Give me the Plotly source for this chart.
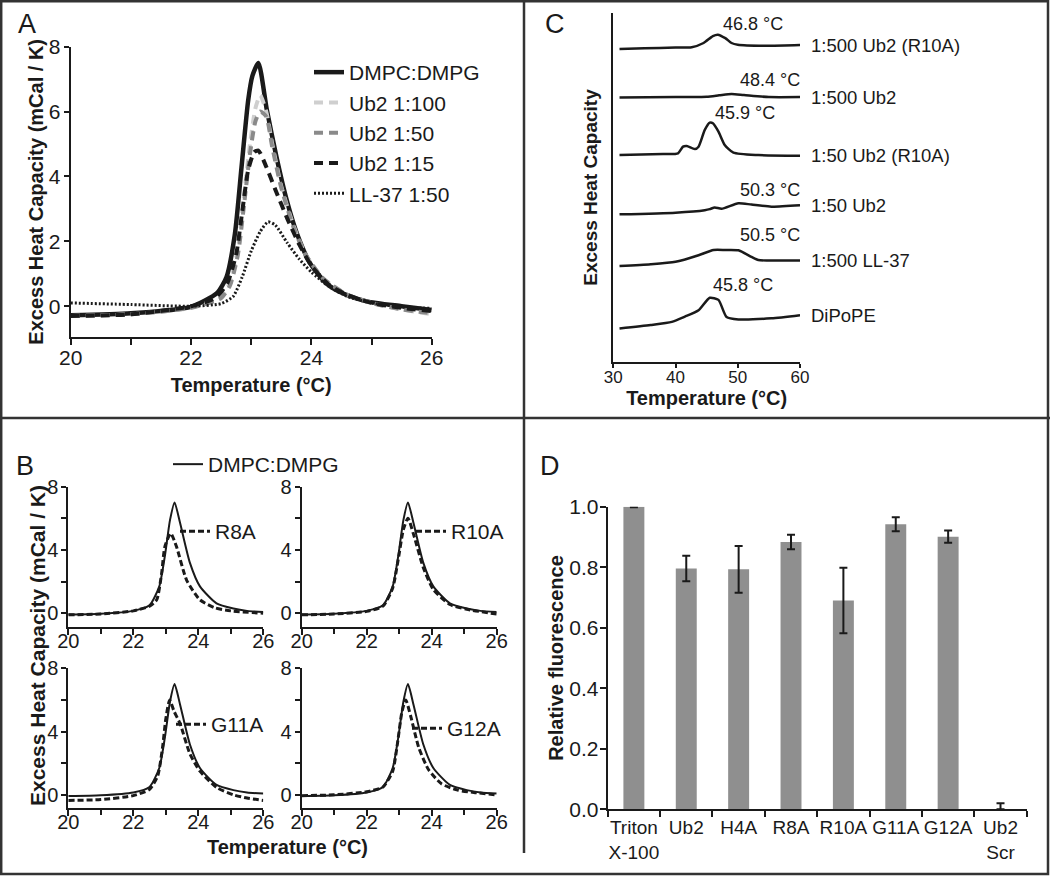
import plotly.graph_objects as go

W, H = 1050, 876
FONT = "Liberation Sans, Arial, sans-serif"
INK = "#1a1a1a"

# ---------------- Panel A data ----------------
a_dmpc_t = [20, 21, 22, 22.43, 22.59, 22.73, 22.84, 22.95, 23.02, 23.12, 23.26, 23.42, 23.59, 23.76, 23.98, 24.25, 24.53, 24.92, 25.5, 26]
a_dmpc_v = [-0.28, -0.22, -0.02, 0.4, 0.9, 2.24, 4.3, 6.35, 7.1, 7.5, 6.05, 4.6, 3.27, 2.24, 1.32, 0.7, 0.39, 0.15, 0.0, -0.12]
a_ub100_t = [20, 21, 22, 22.5, 22.65, 22.78, 22.88, 22.98, 23.07, 23.15, 23.25, 23.35, 23.5, 23.7, 23.9, 24.2, 24.6, 25.0, 25.5, 26]
a_ub100_v = [-0.3, -0.25, -0.05, 0.3, 0.75, 1.8, 3.4, 5.0, 6.1, 6.5, 6.0, 5.0, 3.7, 2.5, 1.6, 0.85, 0.35, 0.1, -0.1, -0.25]
a_ub50_t = [20, 21, 22, 22.5, 22.65, 22.78, 22.88, 22.98, 23.07, 23.15, 23.25, 23.35, 23.5, 23.7, 23.9, 24.2, 24.6, 25.0, 25.5, 26]
a_ub50_v = [-0.3, -0.25, -0.05, 0.25, 0.65, 1.6, 3.1, 4.7, 5.7, 6.0, 5.85, 4.9, 3.65, 2.45, 1.6, 0.85, 0.35, 0.1, -0.1, -0.22]
a_ub15_t = [20, 21, 22, 22.4, 22.6, 22.75, 22.85, 22.95, 23.05, 23.12, 23.25, 23.4, 23.6, 23.8, 24.0, 24.3, 24.6, 25.0, 25.5, 26]
a_ub15_v = [-0.3, -0.25, 0.0, 0.25, 0.7, 1.6, 2.9, 4.2, 4.75, 4.8, 4.3, 3.6, 2.7, 1.9, 1.25, 0.65, 0.35, 0.1, -0.05, -0.15]
a_ll37_t = [20, 21, 22, 22.5, 22.7, 22.85, 23.0, 23.15, 23.28, 23.4, 23.6, 23.8, 24.0, 24.3, 24.6, 25.0, 25.5, 26]
a_ll37_v = [0.1, 0.05, 0.0, 0.08, 0.3, 0.9, 1.7, 2.3, 2.6, 2.5, 1.95, 1.45, 1.05, 0.6, 0.3, 0.1, -0.02, -0.07]

# ---------------- Panel B data ----------------
b_dmpc_t = [20, 21, 22, 22.5, 22.8, 22.97, 23.13, 23.27, 23.44, 23.74, 24.05, 24.56, 25.08, 25.5, 26]
b_dmpc_v = [-0.08, -0.03, 0.15, 0.5, 1.7, 3.6, 5.9, 7.0, 5.7, 3.2, 1.7, 0.63, 0.3, 0.15, 0.08]
b_r8a_t = [20, 21, 22, 22.5, 22.72, 22.87, 22.97, 23.15, 23.33, 23.64, 24.05, 24.5, 25, 26]
b_r8a_v = [-0.1, -0.05, 0.15, 0.45, 0.85, 2.5, 4.2, 5.05, 4.2, 2.1, 0.85, 0.35, 0.15, 0.0]
b_r10a_t = [20, 21, 22, 22.5, 22.8, 22.97, 23.13, 23.27, 23.44, 23.74, 24.05, 24.56, 25.08, 26]
b_r10a_v = [-0.1, -0.05, 0.12, 0.45, 1.6, 3.4, 5.3, 6.0, 5.0, 2.9, 1.5, 0.55, 0.25, -0.05]
b_g11a_t = [20, 21, 22, 22.5, 22.75, 22.9, 23.0, 23.12, 23.25, 23.44, 23.74, 24.05, 24.56, 25.08, 25.5, 26]
b_g11a_v = [-0.35, -0.3, -0.05, 0.35, 1.2, 3.0, 4.8, 6.0, 5.3, 4.5, 2.6, 1.5, 0.47, 0.0, -0.2, -0.35]
b_g12a_t = [20, 21, 22, 22.5, 22.8, 22.95, 23.08, 23.2, 23.35, 23.6, 23.9, 24.3, 24.8, 25.3, 26]
b_g12a_v = [-0.05, 0.0, 0.2, 0.5, 1.5, 3.3, 5.2, 6.0, 5.0, 3.0, 1.6, 0.7, 0.3, 0.15, 0.0]

# ---------------- Panel C data (stacked thermograms, arbitrary units) ----------------
c_names = ["1:500 Ub2 (R10A)", "1:500 Ub2", "1:50 Ub2 (R10A)", "1:50 Ub2", "1:500 LL-37", "DiPoPE"]
c_peaks = ["46.8 °C", "48.4 °C", "45.9 °C", "50.3 °C", "50.5 °C", "45.8 °C"]
c_t = [
    [31, 35, 40, 42.6, 44.5, 46.0, 46.8, 48.0, 49.0, 50.0, 55, 60],
    [31, 40, 45, 47, 49, 51, 55, 60],
    [31, 38, 40.4, 41.2, 41.8, 43.1, 43.7, 44.7, 45.5, 46.0, 46.9, 47.9, 49.3, 53.3, 60],
    [31, 40, 44.7, 45.5, 46.3, 47.4, 50.1, 52.2, 55.4, 60],
    [31, 36, 40, 43.7, 46.1, 48, 50.1, 52.2, 53.3, 55, 60],
    [31, 36, 39.4, 41.5, 43.7, 45.5, 46.9, 48.2, 50.1, 55.4, 60],
]
c_v = [
    [89.7, 89.9, 90.1, 90.2, 91.4, 93.4, 93.8, 92.8, 91.4, 90.9, 90.6, 90.8],
    [75.8, 75.9, 76.0, 76.4, 76.8, 76.5, 75.9, 75.9],
    [59.3, 59.6, 59.8, 61.7, 61.9, 61.0, 61.7, 66.5, 68.6, 68.4, 66.0, 62.2, 60.0, 59.3, 59.1],
    [42.3, 42.8, 43.5, 43.8, 44.3, 43.9, 45.5, 45.1, 44.5, 44.9],
    [27.5, 28.0, 28.7, 30.6, 32.1, 32.1, 32.0, 30.1, 29.2, 29.1, 29.1],
    [9.6, 10.6, 11.5, 13.0, 14.8, 18.4, 17.8, 12.9, 12.2, 12.5, 13.4],
]
# peak-label anchor positions (x in °C, y in plot units)
c_lab_x = [52.4, 55.2, 51.2, 55.2, 55.2, 50.8]
c_lab_y = [96.8, 80.8, 71.3, 49.3, 36.4, 22.1]

# ---------------- Panel D data ----------------
d_cats = ["Triton<br>X-100", "Ub2", "H4A", "R8A", "R10A", "G11A", "G12A", "Ub2<br>Scr"]
d_vals = [1.0, 0.796, 0.793, 0.883, 0.69, 0.942, 0.901, 0.0]
d_err_up = [0.002, 0.042, 0.077, 0.024, 0.108, 0.023, 0.02, 0.02]
d_err_dn = [0.002, 0.042, 0.077, 0.024, 0.108, 0.023, 0.02, 0.0]


def xd(p0, p1):
    return [p0 / W, p1 / W]


def yd(top, bottom):
    return [1 - bottom / H, 1 - top / H]


fig = go.Figure()


def line(x, y, xa, ya, color=INK, width=2, dash="solid", name=None, legend=None, show=False):
    fig.add_trace(go.Scatter(
        x=x, y=y, xaxis=xa, yaxis=ya, mode="lines",
        line=dict(color=color, width=width, dash=dash, shape="spline", smoothing=0.6),
        name=name, showlegend=show, legend=legend, hoverinfo="skip"))


# Panel A
line(a_dmpc_t, a_dmpc_v, "x", "y", INK, 4.5, "solid", "DMPC:DMPG", "legend", True)
line(a_ub100_t, a_ub100_v, "x", "y", "#cfcfcf", 4, "9px,6px", "Ub2 1:100", "legend", True)
line(a_ub50_t, a_ub50_v, "x", "y", "#8a8a8a", 4, "9px,6px", "Ub2 1:50", "legend", True)
line(a_ub15_t, a_ub15_v, "x", "y", INK, 4, "9px,6px", "Ub2 1:15", "legend", True)
line(a_ll37_t, a_ll37_v, "x", "y", INK, 3, "2px,2px", "LL-37 1:50", "legend", True)

# Panel B
b_sets = [(b_r8a_t, b_r8a_v, "R8A"), (b_r10a_t, b_r10a_v, "R10A"),
          (b_g11a_t, b_g11a_v, "G11A"), (b_g12a_t, b_g12a_v, "G12A")]
for i, (t, v, nm) in enumerate(b_sets):
    k = i + 2
    line(b_dmpc_t, b_dmpc_v, f"x{k}", f"y{k}", INK, 2, "solid", "DMPC:DMPG", "legend6", i == 0)
    line(t, v, f"x{k}", f"y{k}", INK, 3, "6px,3px", nm, f"legend{k}", True)

# Panel C
for t, v in zip(c_t, c_v):
    line(t, v, "x6", "y6", INK, 2.5)

# Panel D
fig.add_trace(go.Bar(
    x=d_cats, y=d_vals, xaxis="x7", yaxis="y7", width=0.4,
    marker=dict(color="#8f8f8f", line=dict(width=0)),
    error_y=dict(type="data", array=d_err_up, arrayminus=d_err_dn, symmetric=False,
                 color=INK, thickness=2, width=4),
    cliponaxis=False, showlegend=False, hoverinfo="skip"))

axis_common = dict(showline=True, linecolor=INK, linewidth=2, ticks="outside", tickcolor=INK,
                   tickwidth=2, ticklen=6, showgrid=False, zeroline=False, automargin=False,
                   tickfont=dict(family=FONT, size=21, color=INK))
title_font = dict(family=FONT, size=20, color=INK, weight="bold")

layout = dict(
    width=W, height=H, margin=dict(l=0, r=0, t=0, b=0, autoexpand=False), autosize=False,
    paper_bgcolor="white", plot_bgcolor="white",
    font=dict(family=FONT, color=INK),
)

# A axes
layout["xaxis"] = dict(axis_common, domain=xd(70.7, 431.7), anchor="y", range=[20, 26], dtick=2,
                       ticklabelstandoff=-5,
                       minor=dict(dtick=1, ticks="outside", ticklen=6, tickwidth=2, tickcolor=INK),
                       title=dict(text="Temperature (°C)", font=title_font, standoff=10))
layout["yaxis"] = dict(axis_common, domain=yd(46.7, 337), anchor="x", range=[-0.95, 8], dtick=2,
                       ticklabelstandoff=-1, ticklen=5,
                       title=dict(text="Excess Heat Capacity (mCal / K)", font=title_font, standoff=0))

# B axes
b_x = [(68.3, 263.3), (301.7, 496.7), (68.3, 263.3), (301.7, 496.7)]
b_y = [(486.7, 626.7), (486.7, 626.7), (668.3, 808.3), (668.3, 808.3)]
for i in range(4):
    k = i + 2
    bfont = dict(family=FONT, size=20, color=INK)
    layout[f"xaxis{k}"] = dict(axis_common, domain=xd(*b_x[i]), anchor=f"y{k}", range=[20, 26], dtick=2,
                               tickfont=bfont, ticklabelstandoff=-11,
                               minor=dict(dtick=1, ticks="outside", ticklen=5, tickwidth=2, tickcolor=INK))
    layout[f"yaxis{k}"] = dict(axis_common, domain=yd(*b_y[i]), anchor=f"x{k}", range=[-0.85, 8], dtick=4,
                               tickfont=bfont, ticklabelstandoff=-1, ticklen=5,
                               minor=dict(dtick=2, ticks="outside", ticklen=5, tickwidth=2, tickcolor=INK))

# C axes
layout["xaxis6"] = dict(axis_common, domain=xd(613.3, 800), anchor="y6", range=[30, 60], dtick=10,
                        tickfont=dict(family=FONT, size=17, color=INK), ticklen=4, ticklabelstandoff=-5,
                        title=dict(text="Temperature (°C)", font=dict(title_font, size=20), standoff=2))
layout["yaxis6"] = dict(axis_common, domain=yd(13, 362), anchor="x6", range=[0, 100], ticks="",
                        showticklabels=False,
                        title=dict(text="Excess Heat Capacity", font=dict(title_font, size=19), standoff=9))

# D axes
layout["xaxis7"] = dict(axis_common, domain=xd(607.7, 1026.7), anchor="y7", type="category",
                        range=[-0.5, 7.5], tickson="boundaries", tickangle=0,
                        tickfont=dict(family=FONT, size=19, color=INK))
layout["yaxis7"] = dict(axis_common, domain=yd(506.7, 809.3), anchor="x7", range=[0, 1.0], dtick=0.2,
                        tickformat=".1f", ticklabelstandoff=-3,
                        title=dict(text="Relative fluorescence", font=title_font, standoff=0))

# Legends
leg_base = dict(bgcolor="rgba(0,0,0,0)", borderwidth=0, xanchor="left", yanchor="top",
                font=dict(family=FONT, size=21, color=INK), itemwidth=30)
layout["legend"] = dict(leg_base, x=309 / W, y=1 - 52 / H)
layout["legend6"] = dict(leg_base, x=168 / W, y=1 - 444 / H)
leg_pos = [(175, 511), (411, 511), (171, 704), (407, 708)]
for i, (px, py) in enumerate(leg_pos):
    layout[f"legend{i + 2}"] = dict(leg_base, x=px / W, y=1 - py / H)

# Annotations
ann = []
for lab, (px, py) in zip(["A", "B", "C", "D"], [(27, 24), (25, 466), (555, 24), (550, 466)]):
    ann.append(dict(text=lab, x=px / W, y=1 - py / H, xref="paper", yref="paper", showarrow=False,
                    font=dict(family=FONT, size=27, color=INK), xanchor="center", yanchor="middle"))
for nm, t, v in zip(c_names, c_t, c_v):
    ann.append(dict(text=nm, x=t[-1], y=v[-1], xref="x6", yref="y6", showarrow=False, xanchor="left",
                    yanchor="middle", xshift=9, font=dict(family=FONT, size=18.5, color=INK)))
for pk, lx, ly in zip(c_peaks, c_lab_x, c_lab_y):
    ann.append(dict(text=pk, x=lx, y=ly, xref="x6", yref="y6", showarrow=False, xanchor="center",
                    yanchor="middle", font=dict(family=FONT, size=18, color=INK)))
ann.append(dict(text="<b>Excess Heat Capacity (mCal / K)</b>", x=37 / W, y=1 - 646 / H, xref="paper",
                yref="paper", showarrow=False, textangle=-90, xanchor="center", yanchor="middle",
                font=dict(family=FONT, size=21, color=INK)))
ann.append(dict(text="<b>Temperature (°C)</b>", x=287 / W, y=1 - 847 / H, xref="paper", yref="paper",
                showarrow=False, xanchor="center", yanchor="middle",
                font=dict(family=FONT, size=20, color=INK)))
layout["annotations"] = ann

# Frame and panel dividers
frame = dict(color="#333333", width=2.5)
layout["shapes"] = [
    dict(type="rect", xref="paper", yref="paper", x0=1.2 / W, x1=1 - 2 / W, y0=2 / H, y1=1 - 1.2 / H,
         line=frame, layer="above"),
    dict(type="line", xref="paper", yref="paper", x0=524 / W, x1=524 / W, y0=1 - 853 / H, y1=1, line=frame),
    dict(type="line", xref="paper", yref="paper", x0=0, x1=1, y0=1 - 418 / H, y1=1 - 418 / H, line=frame),
]

fig.update_layout(layout)
fig.write_html("out.html", config={"displayModeBar": False},
               post_script="document.body.style.margin='0';")
